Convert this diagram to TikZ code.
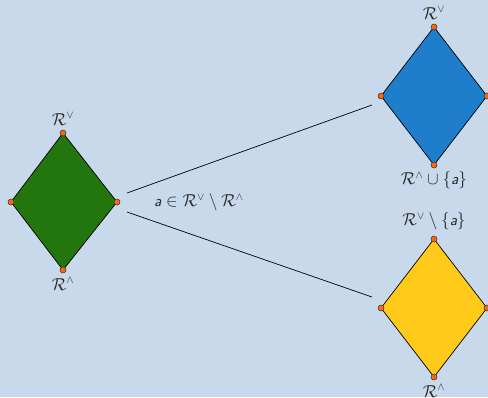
\documentclass[tikz,border=0pt]{standalone}
\usepackage{amssymb}
\definecolor{bgc}{RGB}{200,217,235}
\definecolor{greenf}{RGB}{35,118,14}
\definecolor{bluef}{RGB}{30,126,204}
\definecolor{yellowf}{RGB}{255,202,26}
\definecolor{dotc}{RGB}{255,100,10}
\definecolor{txtc}{RGB}{40,40,40}
\newcommand{\va}{\text{\sffamily\itshape a}}
\usepackage{amsmath}
\tikzset{
  dia/.style={draw=black, line width=0.7pt, line join=round},
  vdot/.style={circle, fill=dotc, draw=black!80, line width=0.5pt, inner sep=0pt, minimum size=6pt},
  lbl/.style={inner sep=1pt, text=txtc, font=\fontsize{16}{19}\selectfont},
  conn/.style={draw=black, line width=0.7pt}
}
\begin{document}
\begin{tikzpicture}[x=1pt,y=-1pt]
\fill[bgc] (0,0) rectangle (488,397);
\useasboundingbox (0,0) rectangle (488,397);
% left diamond
\coordinate (LT) at (63,133); \coordinate (LB) at (63,270);
\coordinate (LL) at (11,202); \coordinate (LR) at (117,202);
\filldraw[dia, fill=greenf] (LT) -- (LR) -- (LB) -- (LL) -- cycle;
% top right diamond
\coordinate (AT) at (434,27); \coordinate (AB) at (434,165);
\coordinate (AL) at (381,96); \coordinate (AR) at (487,96);
\filldraw[dia, fill=bluef] (AT) -- (AR) -- (AB) -- (AL) -- cycle;
% bottom right diamond
\coordinate (BT) at (434,239); \coordinate (BB) at (434,377);
\coordinate (BL) at (381,308); \coordinate (BR) at (487,308);
\filldraw[dia, fill=yellowf] (BT) -- (BR) -- (BB) -- (BL) -- cycle;
% vertices
\foreach \p in {LT,LB,LL,LR,AT,AB,AL,AR,BT,BB,BL,BR}
  \node[vdot] (d\p) at (\p) {};
% connectors
\coordinate (c1s) at (127,193); \coordinate (c1e) at (372,105);
\coordinate (c2s) at (127,212); \coordinate (c2e) at (372,297);
\draw[conn] (c1s) -- (c1e);
\draw[conn] (c2s) -- (c2e);
% labels
\node[lbl] (l1) at (63,119) {$\mathcal{R}^{\vee}$};
\node[lbl] (l2) at (63,284) {$\mathcal{R}^{\wedge}$};
\node[lbl] (l3) at (434,13) {$\mathcal{R}^{\vee}$};
\node[lbl] (l4) at (434,180) {$\mathcal{R}^{\wedge}\cup\{\va\}$};
\node[lbl] (l5) at (434,221) {$\mathcal{R}^{\vee}\setminus\{\va\}$};
\node[lbl] (l6) at (434,391) {$\mathcal{R}^{\wedge}$};
\node[lbl] (l7) at (199,202) {$\va\in\mathcal{R}^{\vee}\setminus\mathcal{R}^{\wedge}$};
\end{tikzpicture}
\end{document}
